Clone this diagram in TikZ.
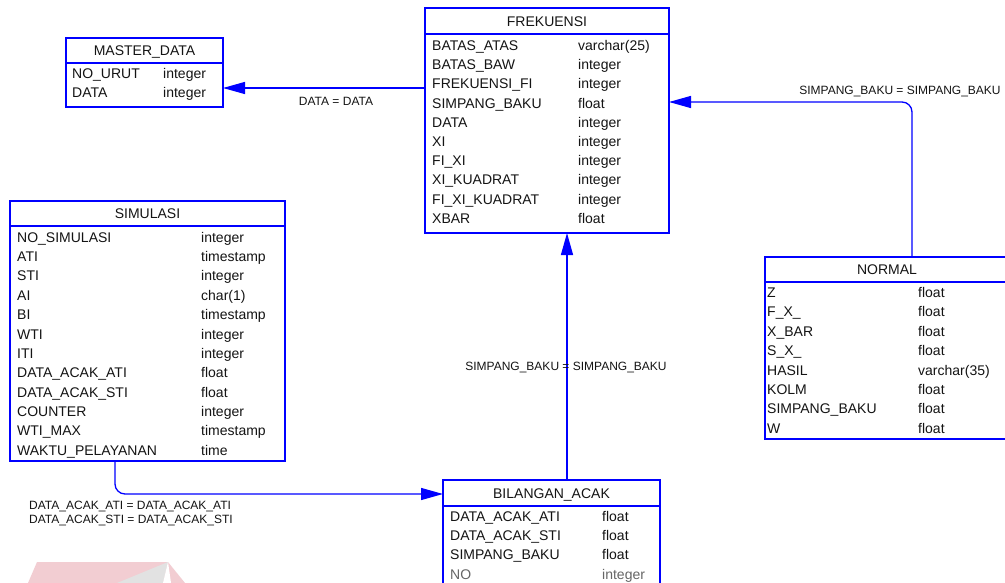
\documentclass[tikz,border=0pt]{standalone}
\usepackage{fontspec}
\setmainfont{Liberation Sans}
\usetikzlibrary{arrows.meta}
\definecolor{erblue}{RGB}{0,0,255}
\definecolor{wmpink}{RGB}{242,205,210}
\definecolor{wmgray}{RGB}{226,226,226}
\definecolor{txt}{RGB}{20,20,20}
\tikzset{
  tbl/.style={draw=erblue, line width=1.3pt, anchor=north west, inner sep=0pt, outer sep=0pt},
  sepline/.style={draw=erblue, line width=1.3pt},
  hdr/.style={font=\fontsize{14}{16}\selectfont, text=txt, inner sep=0pt, text height=10pt, text depth=0pt},
  fld/.style={font=\fontsize{14}{16}\selectfont, text=txt, anchor=west, inner sep=0pt, text height=10pt, text depth=0pt},
  rel/.style={draw=erblue, line width=1.3pt, -{Triangle[length=22pt,width=12pt]}},
  lbl/.style={font=\fontsize{12}{14}\selectfont, text=txt, inner sep=0pt, text height=8.6pt, text depth=0pt}
}
\begin{document}
\begin{tikzpicture}[x=1pt,y=-1pt]
\useasboundingbox (0,0) rectangle (1005,583);
\fill[white] (0,0) rectangle (1005,583);

% watermark fragment
\fill[wmpink] (37,562) -- (168,562) -- (185,583) -- (28,583) -- cycle;
\fill[wmgray] (168,562) -- (117,583) -- (163,583) -- cycle;
\fill[white] (168,562) -- (163,583) -- (171,583) -- cycle;

% FREKUENSI
\node[tbl, minimum width=244pt, minimum height=225pt] (fre) at (425,8) {};
\draw[sepline] (425,34) -- (669,34);
\node[hdr] (freT) at (547,21.5) {FREKUENSI};
\foreach \n/\t [count=\i from 0] in {BATAS\_ATAS/varchar(25), BATAS\_BAW/integer, FREKUENSI\_FI/integer, SIMPANG\_BAKU/float, DATA/integer, XI/integer, FI\_XI/integer, XI\_KUADRAT/integer, FI\_XI\_KUADRAT/integer, XBAR/float}{
  \node[fld] (freN\i) at (432, 45.5+19.2*\i) {\n};
  \node[fld] (freY\i) at (578, 45.5+19.2*\i) {\t};
}

% MASTER_DATA
\node[tbl, minimum width=157pt, minimum height=69pt] (md) at (66,38) {};
\draw[sepline] (66,63) -- (223,63);
\node[hdr] (mdT) at (144.5,50.5) {MASTER\_DATA};
\node[fld] (mdN0) at (72,73.3) {NO\_URUT};
\node[fld] (mdY0) at (163,73.3) {integer};
\node[fld] (mdN1) at (72,92.7) {DATA};
\node[fld] (mdY1) at (163,92.7) {integer};

% SIMULASI
\node[tbl, minimum width=275pt, minimum height=260pt] (sim) at (10,201) {};
\draw[sepline] (10,226) -- (285,226);
\node[hdr] (simT) at (147.5,213.5) {SIMULASI};
\foreach \n/\t [count=\i from 0] in {NO\_SIMULASI/integer, ATI/timestamp, STI/integer, AI/char(1), BI/timestamp, WTI/integer, ITI/integer, DATA\_ACAK\_ATI/float, DATA\_ACAK\_STI/float, COUNTER/integer, WTI\_MAX/timestamp, WAKTU\_PELAYANAN/time}{
  \node[fld] (simN\i) at (17, 237.3+19.34*\i) {\n};
  \node[fld] (simY\i) at (201, 237.3+19.34*\i) {\t};
}

% NORMAL
\node[tbl, minimum width=245pt, minimum height=182pt] (nor) at (765,257) {};
\draw[sepline] (765,282) -- (1010,282);
\node[hdr] (norT) at (887,269.5) {NORMAL};
\foreach \n/\t [count=\i from 0] in {Z/float, F\_X\_/float, X\_BAR/float, S\_X\_/float, HASIL/varchar(35), KOLM/float, SIMPANG\_BAKU/float, W/float}{
  \node[fld] (norN\i) at (767, 292.3+19.43*\i) {\n};
  \node[fld] (norY\i) at (918, 292.3+19.43*\i) {\t};
}

% BILANGAN_ACAK
\node[tbl, minimum width=217pt, minimum height=110pt] (bil) at (443,480) {};
\draw[sepline] (443,506) -- (660,506);
\node[hdr] (bilT) at (551.5,493.5) {BILANGAN\_ACAK};
\foreach \n/\t [count=\i from 0] in {DATA\_ACAK\_ATI/float, DATA\_ACAK\_STI/float, SIMPANG\_BAKU/float}{
  \node[fld] (bilN\i) at (450, 516.7+19.1*\i) {\n};
  \node[fld] (bilY\i) at (602, 516.7+19.1*\i) {\t};
}
\node[fld, text=black!60] (bilN3) at (450, 574) {NO};
\node[fld, text=black!60] (bilY3) at (602, 574) {integer};

% relationships
\draw[rel] (fre.west |- 0,88) -- (md.east |- 0,88);
\node[lbl] (l1) at (336,101) {DATA = DATA};

\draw[rel, rounded corners=10pt] (912,0 |- nor.north) -- (912,102) -- (fre.east |- 0,102);
\node[lbl] (l2) at (900,90.5) {SIMPANG\_BAKU = SIMPANG\_BAKU};

\draw[rel] (567,0 |- bil.north) -- (567,0 |- fre.south);
\node[lbl] (l3) at (566,366.5) {SIMPANG\_BAKU = SIMPANG\_BAKU};

\draw[rel, rounded corners=10pt] (115,0 |- sim.south) -- (115,494) -- (bil.west |- 0,494);
\node[lbl, anchor=west] (l4) at (29,505) {DATA\_ACAK\_ATI = DATA\_ACAK\_ATI};
\node[lbl, anchor=west] (l5) at (29,519.5) {DATA\_ACAK\_STI = DATA\_ACAK\_STI};
\end{tikzpicture}
\end{document}
